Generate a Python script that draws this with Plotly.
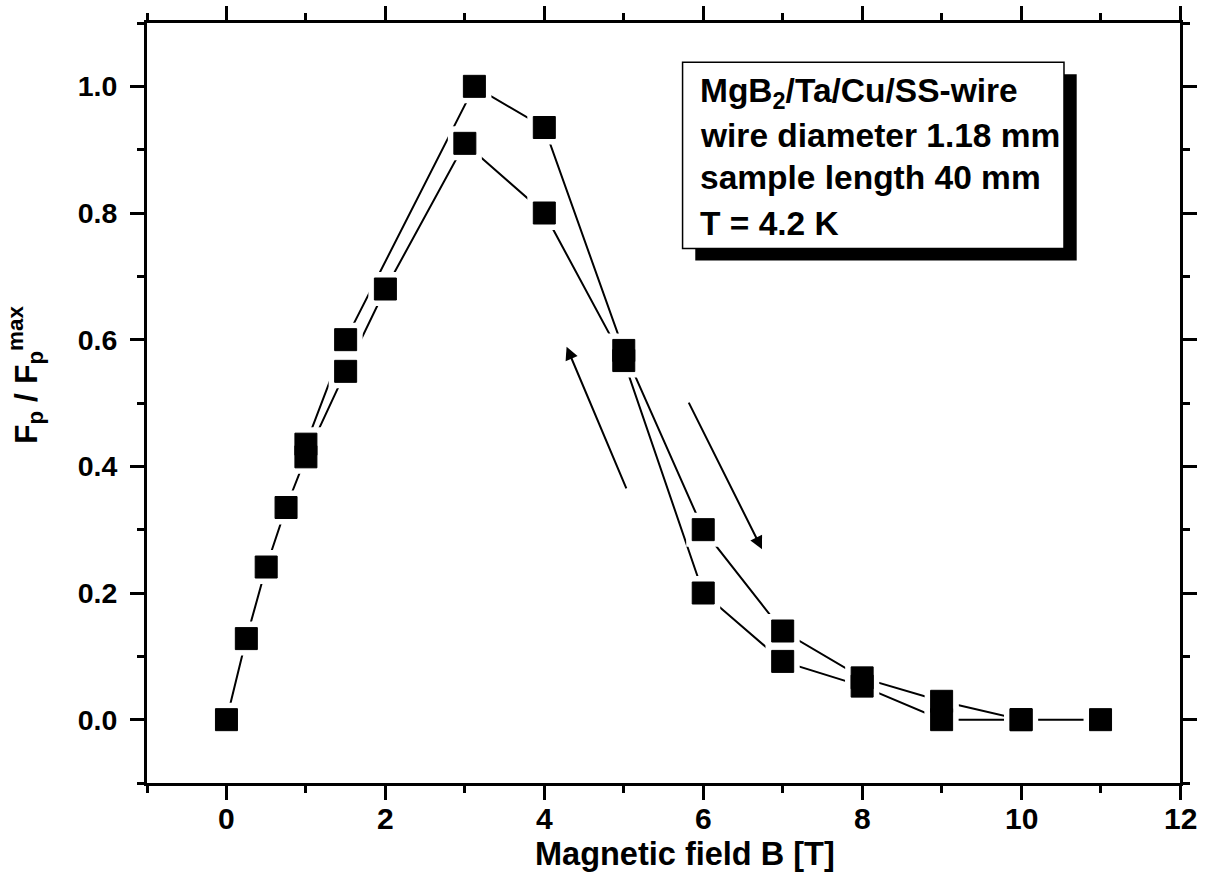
import plotly.graph_objects as go

# Series with increasing B on the upper right branch (A) and the branch starting from 0 (B)
field_a = [1, 1.5, 3.12, 4, 5, 6, 7, 8, 9, 10, 11]
fp_a = [0.435, 0.60, 1.0, 0.935, 0.583, 0.30, 0.14, 0.066, 0.029, 0.0, 0.0]

field_b = [0, 0.25, 0.5, 0.75, 1, 1.5, 2, 3, 4, 5, 6, 7, 8, 9, 10]
fp_b = [0.0, 0.128, 0.241, 0.335, 0.415, 0.55, 0.68, 0.91, 0.80, 0.567, 0.20, 0.092, 0.053, 0.0, 0.0]

x_tick_vals = [0, 2, 4, 6, 8, 10, 12]
x_tick_text = ["0", "2", "4", "6", "8", "10", "12"]

box_lines = ["MgB<sub>2</sub>/Ta/Cu/SS-wire", "wire diameter 1.18 mm",
             "sample length 40 mm", "T = 4.2 K"]
x_title = "Magnetic field B [T]"
y_title = "F<sub>p</sub> / F<sub>p</sub><sup>max</sup>"

FONT = "Arial, Liberation Sans, sans-serif"
fig = go.Figure()

# connecting lines
for xs, ys in [(field_a, fp_a), (field_b, fp_b)]:
    fig.add_trace(go.Scatter(x=xs, y=ys, mode="lines",
                             line=dict(color="black", width=2), showlegend=False,
                             hoverinfo="skip"))
# white gaps around markers
for xs, ys in [(field_a, fp_a), (field_b, fp_b)]:
    fig.add_trace(go.Scatter(x=xs, y=ys, mode="markers",
                             marker=dict(symbol="square", size=34, color="white",
                                         line=dict(width=0)),
                             showlegend=False, hoverinfo="skip"))
# black squares
for xs, ys in [(field_a, fp_a), (field_b, fp_b)]:
    fig.add_trace(go.Scatter(x=xs, y=ys, mode="markers",
                             marker=dict(symbol="square", size=22, color="black",
                                         line=dict(width=1, color="black")),
                             showlegend=False))

axis_common = dict(
    showline=True, linecolor="black", linewidth=3, mirror="allticks",
    ticks="outside", ticklen=14, tickwidth=3, tickcolor="black",
    showgrid=False, zeroline=False,
)

fig.update_xaxes(range=[-1, 12], tickmode="array", tickvals=x_tick_vals, showticklabels=False,
                 minor=dict(dtick=1, tick0=0, ticks="outside", ticklen=7, tickwidth=3, tickcolor="black"),
                 **axis_common)
fig.update_yaxes(range=[-0.1, 1.1], tick0=0, dtick=0.2, tickformat=".1f", ticklabelstandoff=7,
                 tickfont=dict(family=FONT, size=28.5, color="black", weight="bold"),
                 minor=dict(dtick=0.1, ticks="outside", ticklen=7, tickwidth=3, tickcolor="black"),
                 **axis_common)

# x tick labels placed on the x scale
for v, t in zip(x_tick_vals, x_tick_text):
    fig.add_annotation(x=v, y=0, xref="x", yref="paper", yshift=-35, text=t,
                       showarrow=False, xanchor="center", yanchor="middle",
                       font=dict(family=FONT, size=30, color="black", weight="bold"))

# axis titles
fig.add_annotation(x=0.5208, y=-0.093, xref="paper", yref="paper", text=x_title,
                   showarrow=False, xanchor="center", yanchor="middle",
                   font=dict(family=FONT, size=32.5, color="black", weight="bold"))
fig.add_annotation(x=-0.117, y=0.537, xref="paper", yref="paper", text=y_title,
                   showarrow=False, xanchor="center", yanchor="middle", textangle=-90,
                   font=dict(family=FONT, size=32, color="black", weight="bold"))

# text box with shadow
fig.add_shape(type="rect", xref="x", yref="y", x0=5.90, x1=10.70, y0=0.725, y1=1.019,
              fillcolor="black", line=dict(width=0), layer="above")
fig.add_shape(type="rect", xref="x", yref="y", x0=5.74, x1=10.54, y0=0.744, y1=1.038,
              fillcolor="white", line=dict(width=1.5, color="black"), layer="above")

line_y = [0.989, 0.922, 0.856, 0.784]
for txt, yy in zip(box_lines, line_y):
    fig.add_annotation(x=5.93, y=yy, xref="x", yref="y", text=txt, showarrow=False,
                       xanchor="left", yanchor="middle",
                       font=dict(family=FONT, size=33.5, color="black", weight="bold"))

# hysteresis arrows
for (hx, hy, tx, ty) in [(4.28, 0.589, 5.07, 0.354), (6.74, 0.269, 5.78, 0.51)]:
    fig.add_annotation(x=hx, y=hy, ax=tx, ay=ty, xref="x", yref="y", axref="x", ayref="y",
                       text=" ", showarrow=True, arrowhead=2, arrowsize=1.3, arrowwidth=2,
                       arrowcolor="black")

fig.update_layout(
    width=1205, height=886,
    margin=dict(l=147, r=25, t=23, b=103, autoexpand=False),
    paper_bgcolor="white", plot_bgcolor="white",
    font=dict(family=FONT, color="black"),
)

fig.write_html("out.html")
